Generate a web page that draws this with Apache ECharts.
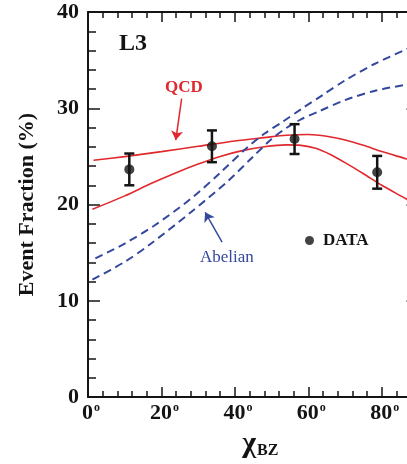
<!DOCTYPE html>
<html><head><meta charset="utf-8">
<script src="https://cdn.jsdelivr.net/npm/echarts@6/dist/echarts.min.js"></script>
<style>html,body{margin:0;padding:0;overflow:hidden;background:#fff;width:407px;height:464px}#c{width:420px;height:464px}</style>
</head><body><div id="c"></div><script>
// ---- data ----
const dataX = [11.25, 33.75, 56.25, 78.75];
const dataY = [23.65, 26.05, 26.8, 23.35];
const dataErr = [1.65, 1.65, 1.55, 1.7];

const qcdUpper = [[1.5,24.6],[10,24.98],[20,25.5],[30,26.05],[40,26.6],[48,26.95],[54,27.2],[60,27.28],[65,27.1],[70,26.7],[75,26.15],[80,25.5],[86.6,24.75],[90,24.35]];
const qcdLower = [[1.2,19.5],[10,20.9],[17,22.15],[24,23.3],[30,24.2],[36,25.0],[42,25.6],[48,26.0],[54,26.2],[58,26.15],[62,25.85],[66,25.2],[70,24.35],[75,23.2],[80,22.0],[86.6,20.6],[90,19.85]];
const abelianUpper = [[2,14.4],[10,15.95],[18,17.8],[28,20.6],[36,23.3],[43,25.8],[48,27.35],[53,28.6],[58,29.9],[64,31.4],[70,32.9],[78,34.6],[86.6,36.1],[90,36.6]];
const abelianLower = [[1.2,12.2],[10,14.05],[17,15.9],[28,19.2],[38,22.4],[45,25.0],[50,26.8],[54,27.95],[58,28.85],[63,29.7],[70,30.85],[78,31.8],[86.6,32.45],[90,32.65]];

const qcdArrow = [[25.5, 31.0], [23.9, 26.7]];
const abelianArrow = [[36.5, 16.1], [31.9, 19.2]];

const xRange = [0, 90];
const yRange = [0, 40];
const xMajor = 20, xMinor = 4, yMajor = 10;

// ---- styling ----
const FONT = "'Liberation Serif', 'DejaVu Serif', serif";
const RED = '#e0282d';
const BLUE = '#34489e';
const BLACK = '#141414';

const chart = echarts.init(document.getElementById('c'), null, {renderer: 'canvas'});

function xAxisDef(pos, interval, tickLen, main) {
  return {
    type: 'value', position: pos, min: xRange[0], max: xRange[1], interval: interval,
    axisLine: {show: main, onZero: false, lineStyle: {color: BLACK, width: 2}},
    axisTick: {show: true, inside: true, length: tickLen, lineStyle: {color: BLACK, width: 1.5}},
    splitLine: {show: false},
    axisLabel: {show: false}
  };
}
const xMainBottom = xAxisDef('bottom', xMajor, 10, true);
xMainBottom.axisLabel = {
  show: true, margin: 5, showMaxLabel: false,
  formatter: v => (v > 85 ? '' : '{p|}{n|' + v + '}{d|o}'),
  rich: {
    p: {width: 6},
    n: {fontFamily: FONT, fontWeight: 'bold', fontSize: 22, color: BLACK},
    d: {fontFamily: FONT, fontWeight: 'bold', fontSize: 12, color: BLACK, verticalAlign: 'top', padding: [0, 0, 0, 1]}
  }
};
xMainBottom.name = '{c|χ}{s|BZ}';
xMainBottom.nameLocation = 'middle';
xMainBottom.nameGap = 22;
xMainBottom.nameTextStyle = {
  padding: [0, 0, 0, 14],
  rich: {
    c: {fontFamily: FONT, fontWeight: 'bold', fontSize: 30, color: BLACK},
    s: {fontFamily: FONT, fontWeight: 'bold', fontSize: 16, color: BLACK, padding: [14, 0, 0, 1]}
  }
};

function yAxisDef(pos, labels) {
  return {
    type: 'value', position: pos, min: yRange[0], max: yRange[1], interval: yMajor,
    axisLine: {show: true, onZero: false, lineStyle: {color: BLACK, width: 2}},
    axisTick: {show: true, inside: true, length: 12, lineStyle: {color: BLACK, width: 1.5}},
    minorTick: {show: true, splitNumber: 5, length: 8, lineStyle: {color: BLACK, width: 1.5}},
    splitLine: {show: false},
    axisLabel: labels ? {show: true, margin: 9, fontFamily: FONT, fontWeight: 'bold', fontSize: 22, color: BLACK} : {show: false}
  };
}
const yLeft = yAxisDef('left', true);
yLeft.name = 'Event Fraction (%)';
yLeft.nameLocation = 'middle';
yLeft.nameGap = 50;
yLeft.nameTextStyle = {fontFamily: FONT, fontWeight: 'bold', fontSize: 22, color: BLACK};

const lineSeries = (name, data, color, dashed) => ({
  name: name, type: 'line', data: data, smooth: 0.3, showSymbol: false, symbol: 'none',
  xAxisIndex: 0, yAxisIndex: 0, clip: true, z: 2,
  lineStyle: {color: color, width: dashed ? 2 : 1.6, type: dashed ? [8, 5] : 'solid'}
});

const arrowMark = (pts, color) => ({
  silent: true, symbol: ['none', 'arrow'], symbolSize: 9, animation: false,
  label: {show: false},
  lineStyle: {color: color, width: 1.5, type: 'solid'},
  data: [[{coord: pts[0]}, {coord: pts[1]}]]
});

const s1 = lineSeries('QCD a', qcdUpper, RED, false);
s1.markLine = arrowMark(qcdArrow, RED);
const s3 = lineSeries('Abelian a', abelianUpper, BLUE, true);
s3.markLine = arrowMark(abelianArrow, BLUE);

const points = dataX.map((x, i) => [x, dataY[i], dataErr[i]]);

chart.setOption({
  animation: false,
  backgroundColor: '#fff',
  grid: {left: 88, right: 1.5, top: 12, bottom: 59, containLabel: false},
  xAxis: [xMainBottom, xAxisDef('bottom', xMinor, 6, false), xAxisDef('top', xMajor, 10, true), xAxisDef('top', xMinor, 6, false)],
  yAxis: [yLeft, yAxisDef('right', false)],
  legend: {
    show: true, data: ['DATA'], left: 305, top: 232, padding: 0, orient: 'vertical',
    itemWidth: 9, itemHeight: 9, icon: 'circle',
    textStyle: {fontFamily: FONT, fontWeight: 'bold', fontSize: 17, color: BLACK, padding: [0, 0, 0, 4]}
  },
  graphic: [
    {type: 'text', left: 119, top: 32, style: {text: 'L3', font: "bold 24px 'Liberation Serif'", fill: BLACK}},
    {type: 'text', left: 165, top: 79, style: {text: 'QCD', font: "bold 17px 'Liberation Serif'", fill: RED}},
    {type: 'text', left: 200, top: 249, style: {text: 'Abelian', font: "17px 'Liberation Serif'", fill: BLUE}}
  ],
  series: [
    s1,
    lineSeries('QCD b', qcdLower, RED, false),
    s3,
    lineSeries('Abelian b', abelianLower, BLUE, true),
    {
      name: 'errors', type: 'custom', data: points, z: 4,
      renderItem: function (params, api) {
        const x = api.value(0), y = api.value(1), e = api.value(2);
        const t = api.coord([x, y + e]);
        const b = api.coord([x, y - e]);
        const hw = 5;
        const st = {stroke: BLACK, lineWidth: 2.5};
        return {type: 'group', children: [
          {type: 'line', shape: {x1: t[0], y1: t[1], x2: b[0], y2: b[1]}, style: st},
          {type: 'line', shape: {x1: t[0] - hw, y1: t[1], x2: t[0] + hw, y2: t[1]}, style: st},
          {type: 'line', shape: {x1: b[0] - hw, y1: b[1], x2: b[0] + hw, y2: b[1]}, style: st}
        ]};
      }
    },
    {
      name: 'DATA', type: 'scatter', data: points.map(p => [p[0], p[1]]),
      symbol: 'circle', symbolSize: 10, z: 5,
      itemStyle: {color: BLACK}
    }
  ]
});
</script></body></html>
